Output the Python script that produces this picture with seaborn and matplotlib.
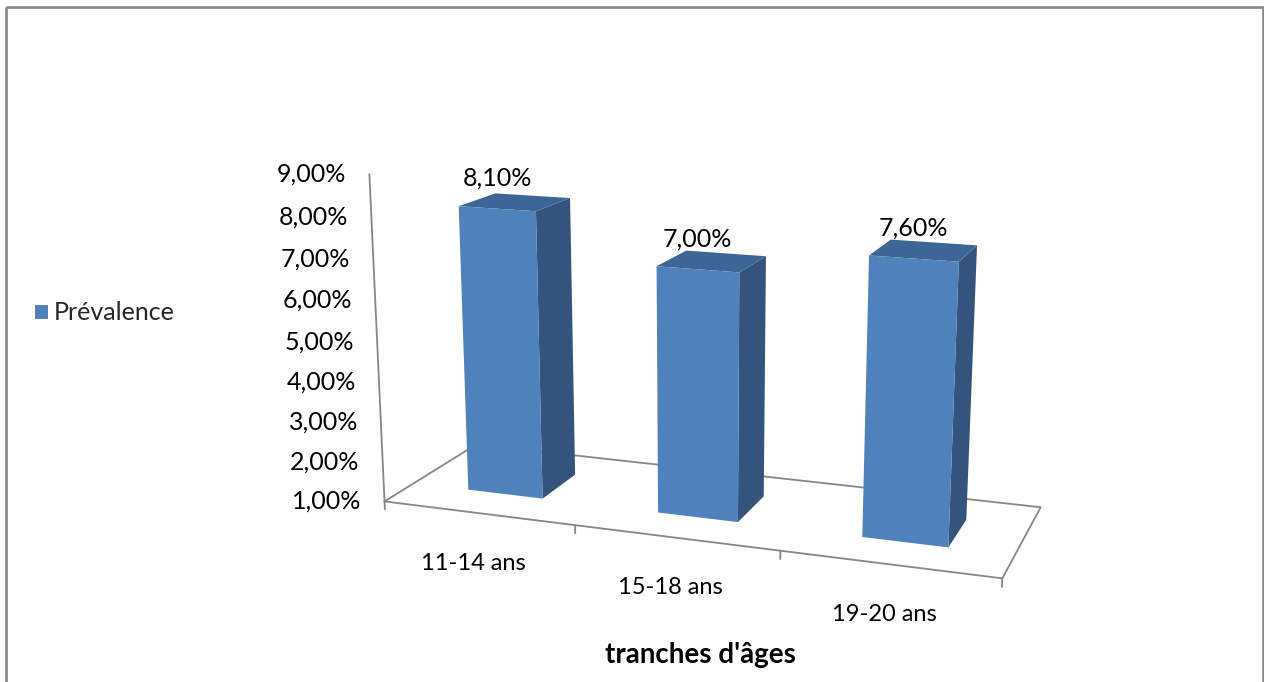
import numpy as np
import matplotlib
matplotlib.use("Agg")
import matplotlib.pyplot as plt
from matplotlib.transforms import Transform
from matplotlib.patches import Polygon, Rectangle, Patch
import seaborn as sns

categories = ["11-14 ans", "15-18 ans", "19-20 ans"]
prevalence = [8.1, 7.0, 7.6]
value_ticks = [1, 2, 3, 4, 5, 6, 7, 8, 9]
tick_labels = ["1,00%", "2,00%", "3,00%", "4,00%", "5,00%", "6,00%", "7,00%", "8,00%", "9,00%"]
bar_labels = ["8,10%", "7,00%", "7,60%"]
series_name = "Prévalence"
x_title = "tranches d'âges"

# Perspective camera of the 3-D box: world (category, value, depth) -> canvas pixels
CAMERA = np.array([
    [163.48, -3.8589, 135.19, 523.38],
    [4.6278, -40.335, -11.194, 519.76],
    [-0.03469, -0.005512, 0.098275, 1.0],
])


def project(u, v, w):
    u, v, w = np.broadcast_arrays(np.asarray(u, float), np.asarray(v, float), np.asarray(w, float))
    pts = np.stack([u.ravel(), v.ravel(), w.ravel(), np.ones(u.size)], axis=1)
    h = pts @ CAMERA.T
    return h[:, :2] / h[:, 2:3]


class FacePlane(Transform):
    """Maps (category, value) on a plane of constant depth to canvas pixels."""
    input_dims = 2
    output_dims = 2

    def __init__(self, plane_depth):
        super().__init__()
        self.plane_depth = plane_depth

    def transform_non_affine(self, values):
        values = np.asarray(values, float).reshape(-1, 2)
        return project(values[:, 0], values[:, 1], self.plane_depth)


FLOOR = value_ticks[0]
TOP = value_ticks[-1]
FRONT = "#4F81BD"
SIDE = "#34547D"
LID = "#3D6596"
GRID = "#878787"

sns.set_theme(style="white")
plt.rcParams["font.family"] = ["Lato", "DejaVu Sans"]

fig = plt.figure(figsize=(12.64, 6.82), dpi=100)
ax = fig.add_axes([0, 0, 1, 1])

sns.barplot(x=categories, y=prevalence, color=FRONT, saturation=1, width=0.4,
            edgecolor="none", linewidth=0, ax=ax)

ax.set_xlim(0, 1264)
ax.set_ylim(682, 0)
ax.axis("off")

# floor of the 3-D box, value axis and category ticks
u_lo, u_hi = -0.5, len(categories) - 0.5
d_lo, d_hi = -0.5, 0.5
floor = project([u_lo, u_hi, u_hi, u_lo, u_lo], FLOOR, [d_lo, d_lo, d_hi, d_hi, d_lo])
ax.plot(floor[:, 0], floor[:, 1], color=GRID, lw=1.3, zorder=1)
axis_line = project(u_lo, [FLOOR, TOP], d_lo)
ax.plot(axis_line[:, 0], axis_line[:, 1], color=GRID, lw=1.3, zorder=1)
for b in np.arange(u_lo, u_hi + 0.01, 1.0):
    t = project(b, [FLOOR, FLOOR - 0.2], d_lo)
    ax.plot(t[:, 0], t[:, 1], color=GRID, lw=1.3, zorder=1)

for val, lab in zip(value_ticks, tick_labels):
    px, py = project(u_lo, val, d_lo)[0]
    ax.text(px - 23, py, lab, ha="right", va="center", fontsize=18, color="black")

# bars: seaborn front faces, extruded to side and top faces
for i, (bar, val) in enumerate(zip(ax.patches, prevalence)):
    bar.set_y(FLOOR)
    bar.set_height(val - FLOOR)
    u0 = bar.get_x()
    u1 = u0 + bar.get_width()
    half = bar.get_width() / 2
    top = bar.get_y() + bar.get_height()
    bar.set_transform(FacePlane(-half) + ax.transData)
    bar.set_zorder(4 + 3 * i)
    side = project(u1, [FLOOR, top, top, FLOOR], [-half, -half, half, half])
    lid = project([u0, u1, u1, u0], top, [-half, -half, half, half])
    ax.add_patch(Polygon(side, closed=True, facecolor=SIDE, edgecolor="none", zorder=3 + 3 * i))
    ax.add_patch(Polygon(lid, closed=True, facecolor=LID, edgecolor="none", zorder=3 + 3 * i))
    lx, ly = project((u0 + u1) / 2, top, -half)[0]
    ax.annotate(bar_labels[i], (lx, ly), xytext=(0, 19), textcoords="offset pixels",
                ha="center", va="bottom", fontsize=18, color="black")
    cx, cy = project((u0 + u1) / 2, FLOOR, d_lo)[0]
    ax.annotate(categories[i], (cx, cy), xytext=(-5, -50), textcoords="offset pixels",
                ha="center", va="center", fontsize=17, color="black")

ax.text(700, 655, x_title, ha="center", va="center", fontsize=20, fontweight="bold", color="black")

fig.legend(handles=[Patch(facecolor=FRONT, edgecolor="none", label=series_name)],
           loc="center left", bbox_to_anchor=(35 / 1264, 1 - 313 / 682), frameon=False,
           borderpad=0, borderaxespad=0, handlelength=0.5, handleheight=0.5,
           handletextpad=0.25, fontsize=18)

ax.add_patch(Rectangle((6, 7), 1257, 700, fill=False, edgecolor="#8C8C8C", lw=2, zorder=0, clip_on=False))

fig.savefig("out.png", dpi=100)
